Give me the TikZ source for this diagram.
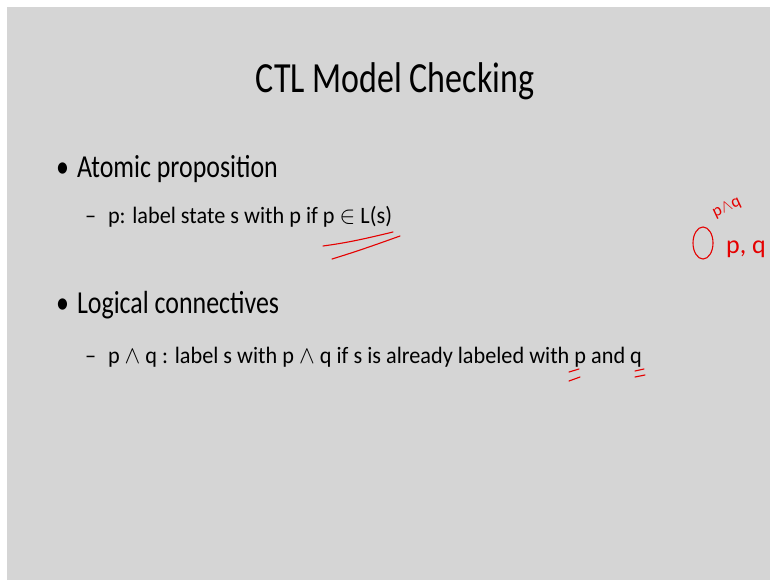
\documentclass[tikz,border=0pt]{standalone}
\usepackage{fontspec}
\setmainfont{Carlito}
\tikzset{every node/.style={inner sep=0pt,outer sep=0pt}}
\tikzset{head/.style={anchor=base,xscale=0.79,font=\fontsize{43}{48}\selectfont}}
\tikzset{item/.style={anchor=base west,xscale=0.81,font=\fontsize{32}{36}\selectfont}}
\tikzset{sub/.style={anchor=base west,xscale=0.947,font=\fontsize{23.5}{28}\selectfont}}
\tikzset{ink/.style={red!90!black,line width=1.1pt,line cap=round,line join=round}}
\tikzset{scrawl/.style={text=red!90!black}}

\begin{document}
\begin{tikzpicture}[x=1pt,y=-1pt]
      \useasboundingbox (0,0) rectangle (770,580);
      \fill[white] (0,0) rectangle (770,580);
      \fill[gray!33] (7,7) rectangle (770,580);
      \node[head] (title) at (395,93) {CTL Model Checking};
        \node[item] (B1) at (56,178) {\textbullet};
        \node[item] (I1) at (77,178) {Atomic proposition};
        \node[sub] (D1) at (85,223) {--};
        \node[sub] (S1) at (108,223) {p: label state s with p if p $\in$ L(s)};
        \node[item] (B2) at (56,313) {\textbullet};
        \node[item] (I2) at (77,313) {Logical connectives};
        \node[sub] (D2) at (85,363) {--};
        \node[sub] (S2) at (108,363) {p $\wedge$ q : label s with p $\wedge$ q if s is already labeled with p and q};
      % red pen marks
      \draw[ink] (323,246) .. controls (345,243) and (360,240) .. (393,232);
      \draw[ink] (332,259) .. controls (355,252) and (375,245) .. (400,236);
      \draw[ink] (569,372) -- (579,369);
      \draw[ink] (569,381) -- (580,377);
      \draw[ink] (635,371) -- (644,369);
      \draw[ink] (635,377) -- (645,375);
      \draw[ink] (703,243) ellipse (10 and 16);
      \node[scrawl,rotate=25,font=\fontsize{17}{18}\selectfont] (pq) at (727,208) {p$\wedge$q};
      \node[scrawl,font=\fontsize{26}{28}\selectfont] (lab) at (746,249) {p, q};
\end{tikzpicture}
\end{document}
